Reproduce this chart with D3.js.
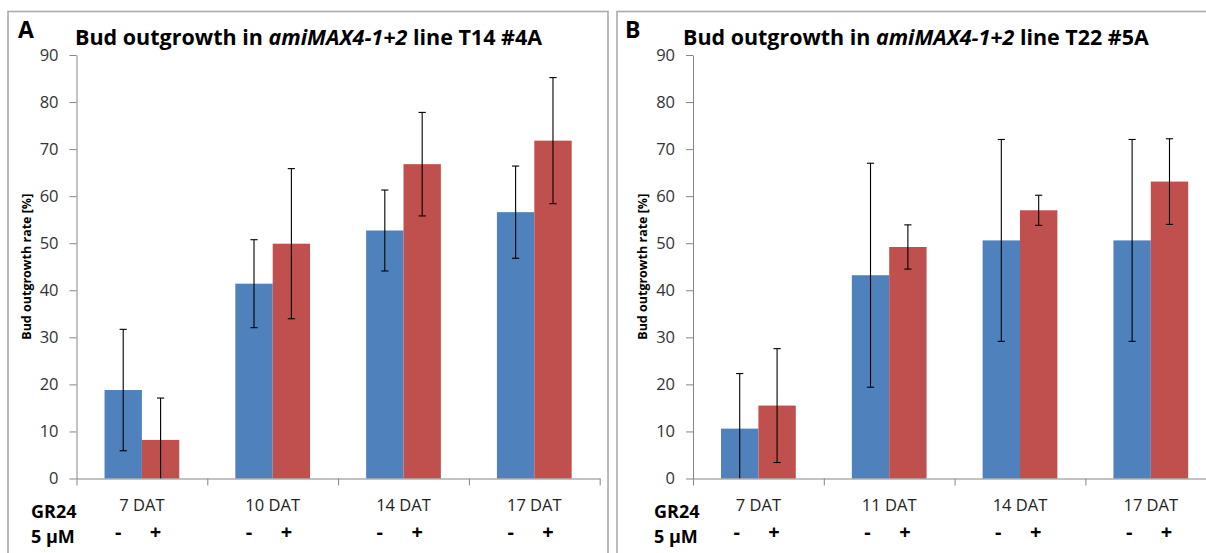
<!DOCTYPE html>
<html>
<head>
<meta charset="utf-8">
<script src="https://cdn.jsdelivr.net/npm/d3@7"></script>
<style>
  html, body { margin: 0; padding: 0; background: #fff; }
  svg { display: block; }
  text { font-family: "Open Sans", "DejaVu Sans", sans-serif; }
</style>
</head>
<body>
<svg id="chart" width="1206" height="553"></svg>
<script>
// ---- data ----
const seriesKeys = ["ctrl", "gr24"];
const yTicks = [0, 10, 20, 30, 40, 50, 60, 70, 80, 90];
const treatmentMarks = ["-", "+"];

const categoriesA = ["7 DAT", "10 DAT", "14 DAT", "17 DAT"];
const ctrlA = [18.8, 41.4, 52.7, 56.6];
const ctrlErrA = [12.9, 9.35, 8.6, 9.8];
const gr24A = [8.2, 49.9, 66.8, 71.8];
const gr24ErrA = [8.9, 15.95, 11.0, 13.4];

const categoriesB = ["7 DAT", "11 DAT", "14 DAT", "17 DAT"];
const ctrlB = [10.6, 43.2, 50.6, 50.6];
const ctrlErrB = [11.7, 23.8, 21.45, 21.45];
const gr24B = [15.5, 49.2, 57.0, 63.1];
const gr24ErrB = [12.1, 4.7, 3.2, 9.1];

const colors = { ctrl: "#4F81BD", gr24: "#C0504D" };

const svg = d3.select("#chart");
svg.append("rect").attr("width", 1206).attr("height", 553).attr("fill", "#fff");

// scale a text element's font size so it spans the given width
function fitWidth(sel, target) {
  const node = sel.node();
  const fs = parseFloat(sel.attr("font-size"));
  const w = node.getComputedTextLength();
  if (w > 0) sel.attr("font-size", (fs * target / w).toFixed(2));
}

function drawPanel(p) {
  const g = svg.append("g");

  // panel frame
  g.append("rect")
    .attr("x", p.frameX).attr("y", 11.5)
    .attr("width", p.frameW).attr("height", 600)
    .attr("fill", "none").attr("stroke", "#ababab").attr("stroke-width", 1.6);

  // panel letter
  g.append("text")
    .attr("x", p.letterX).attr("y", 38)
    .attr("font-family", "'Liberation Sans', Arial, sans-serif")
    .attr("font-weight", "bold").attr("font-size", 23)
    .attr("fill", "#000").text(p.letter);

  // title with italic line name
  const title = g.append("text")
    .attr("x", p.titleX).attr("y", 45)
    .attr("font-weight", "bold").attr("font-size", 19)
    .attr("fill", "#000");
  title.append("tspan").text("Bud outgrowth in ");
  title.append("tspan").attr("font-style", "italic").text("amiMAX4-1+2");
  title.append("tspan").text(" line " + p.line);
  fitWidth(title, p.titleW);

  const y0 = 478.5, yTop = 55;
  const step = 130.8;
  const x = d3.scaleBand()
    .domain(p.categories)
    .range([p.axisX, p.axisX + step * p.categories.length])
    .paddingInner(1.5 / 3.5)
    .paddingOuter(0.75 / 3.5);
  const xs = d3.scaleBand().domain(seriesKeys).range([0, x.bandwidth()]);
  const y = d3.scaleLinear().domain([0, 90]).range([y0, yTop]);

  const rows = p.categories.map((c, i) => ({
    cat: c,
    vals: [
      { key: "ctrl", v: p.ctrl[i], e: p.ctrlErr[i] },
      { key: "gr24", v: p.gr24[i], e: p.gr24Err[i] }
    ]
  }));

  // bars
  const groups = g.selectAll(".grp").data(rows).join("g")
    .attr("transform", d => `translate(${x(d.cat)},0)`);
  groups.selectAll("rect").data(d => d.vals).join("rect")
    .attr("x", d => xs(d.key))
    .attr("y", d => y(d.v))
    .attr("width", xs.bandwidth())
    .attr("height", d => y0 - y(d.v))
    .attr("fill", d => colors[d.key]);

  // error bars (clipped at the axis)
  const cap = 3.6;
  groups.each(function (d) {
    const gg = d3.select(this);
    d.vals.forEach(s => {
      const cx = xs(s.key) + xs.bandwidth() / 2;
      const hi = s.v + s.e, lo = Math.max(0, s.v - s.e);
      gg.append("line").attr("x1", cx).attr("x2", cx)
        .attr("y1", y(hi)).attr("y2", y(lo))
        .attr("stroke", "#000").attr("stroke-width", 1.1);
      gg.append("line").attr("x1", cx - cap).attr("x2", cx + cap)
        .attr("y1", y(hi)).attr("y2", y(hi))
        .attr("stroke", "#000").attr("stroke-width", 1.1);
      if (s.v - s.e > 0) {
        gg.append("line").attr("x1", cx - cap).attr("x2", cx + cap)
          .attr("y1", y(lo)).attr("y2", y(lo))
          .attr("stroke", "#000").attr("stroke-width", 1.1);
      }
    });
  });

  // y axis
  const yAxis = g.append("g")
    .attr("transform", `translate(${p.axisX},0)`)
    .call(d3.axisLeft(y).tickValues(yTicks).tickSize(7).tickPadding(11).tickSizeOuter(0));
  yAxis.select(".domain").attr("stroke", "#868686");
  yAxis.selectAll(".tick line").attr("stroke", "#868686");
  yAxis.selectAll(".tick text")
    .attr("font-family", "'Open Sans', sans-serif")
    .attr("font-size", 16.5).attr("fill", "#333");

  // x axis: ticks on category boundaries
  const xb = d3.scaleLinear().domain([0, p.categories.length])
    .range([p.axisX, p.axisX + step * p.categories.length]);
  const xAxis = g.append("g")
    .attr("transform", `translate(0,${y0})`)
    .call(d3.axisBottom(xb).tickValues(d3.range(p.categories.length + 1))
      .tickFormat("").tickSize(7).tickSizeOuter(0));
  xAxis.select(".domain").attr("stroke", "#868686");
  xAxis.selectAll(".tick line").attr("stroke", "#868686");

  // category labels
  g.selectAll(".cat").data(p.categories).join("text")
    .attr("x", d => x(d) + x.bandwidth() / 2)
    .attr("y", 511)
    .attr("text-anchor", "middle")
    .attr("font-size", 16.5).attr("fill", "#222")
    .text(d => d);

  // treatment rows
  g.append("text").attr("x", p.rowLabelX).attr("y", 518)
    .attr("font-weight", "bold").attr("font-size", 18).attr("fill", "#000")
    .text("GR24");
  g.append("text").attr("x", p.rowLabelX).attr("y", 543)
    .attr("font-weight", "bold").attr("font-size", 18).attr("fill", "#000")
    .text("5 µM");
  rows.forEach(r => {
    seriesKeys.forEach((k, j) => {
      g.append("text")
        .attr("x", x(r.cat) + xs(k) + xs.bandwidth() / 2 - p.markShift)
        .attr("y", 539)
        .attr("text-anchor", "middle")
        .attr("font-weight", "bold").attr("font-size", 20).attr("fill", "#000")
        .text(treatmentMarks[j]);
    });
  });

  // y axis title
  const yt = g.append("text")
    .attr("transform", `translate(${p.yTitleX},${(y0 + yTop) / 2}) rotate(-90)`)
    .attr("text-anchor", "middle")
    .attr("dy", "0.35em")
    .attr("font-weight", "bold").attr("font-size", 11).attr("fill", "#000")
    .text("Bud outgrowth rate [%]");
  fitWidth(yt, 146);
}

drawPanel({
  letter: "A", line: "T14 #4A",
  frameX: 8, frameW: 600, letterX: 18,
  titleX: 75, titleW: 467,
  axisX: 76.5, yTitleX: 27, rowLabelX: 31, markShift: 5,
  categories: categoriesA, ctrl: ctrlA, ctrlErr: ctrlErrA, gr24: gr24A, gr24Err: gr24ErrA
});

drawPanel({
  letter: "B", line: "T22 #5A",
  frameX: 617, frameW: 640, letterX: 625,
  titleX: 683, titleW: 466,
  axisX: 693, yTitleX: 643, rowLabelX: 654, markShift: 3,
  categories: categoriesB, ctrl: ctrlB, ctrlErr: ctrlErrB, gr24: gr24B, gr24Err: gr24ErrB
});
</script>
</body>
</html>
